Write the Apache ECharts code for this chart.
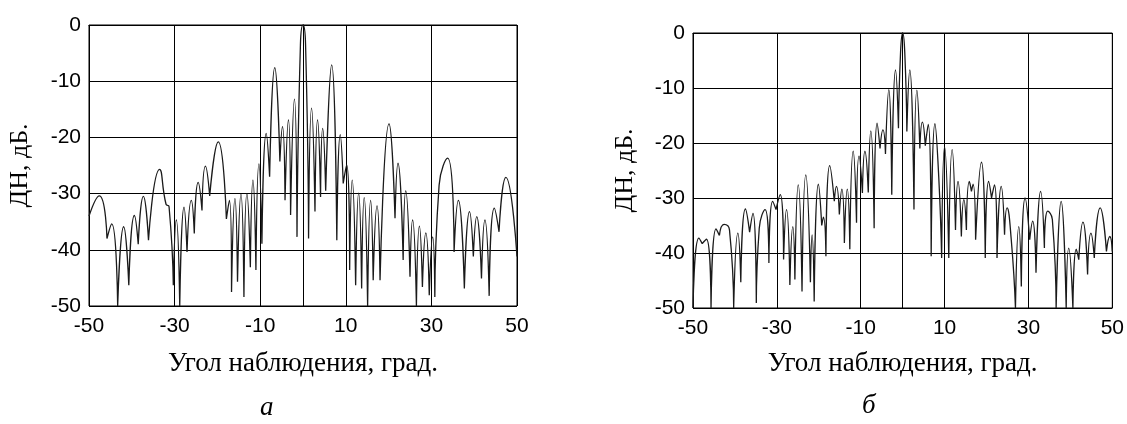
<!DOCTYPE html>
<html>
<head>
<meta charset="utf-8">
<script src="https://cdn.jsdelivr.net/npm/echarts@6/dist/echarts.min.js"></script>
<style>
  html, body { margin: 0; padding: 0; background: #fff; }
  #chart { width: 1127px; height: 424px; }
</style>
</head>
<body>
<div id="chart"></div>
<script>
// chart "а": lobe peaks and nulls (angle, dB)
var anglesA = [-50, -47.6, -45.8, -44.7, -43.3, -41.9, -40.7, -39.4, -38.5, -37.3, -36.1, -33.5, -32.0, -31.3,
  -30.3, -29.6, -28.8, -27.8, -27.1, -26.1, -25.4, -24.5, -23.6, -22.8, -21.8, -19.8, -17.9, -17.2, -16.7,
  -15.9, -15.3, -14.5, -13.8, -13.1, -12.3, -11.7, -11.0, -10.3, -9.6, -8.6, -7.8, -6.6, -5.4, -4.8, -4.2,
  -3.4, -2.9, -2.0, -1.4, -0.6, 0, 0.6, 1.3, 2.0, 2.8, 3.4, 4.1, 4.6, 5.3, 6.7, 7.9, 8.7, 9.4, 10.2, 10.9,
  11.5, 12.3, 13.0, 13.7, 14.3, 15.1, 15.8, 16.4, 17.3, 18.0, 20.1, 21.5, 22.2, 23.4, 24.0, 25.0, 25.6, 26.5,
  27.2, 27.9, 28.7, 29.5, 30.3, 30.8, 31.8, 33.8, 35.3, 36.3, 37.7, 38.9, 39.8, 40.6, 41.7, 42.5, 43.5, 44.7,
  45.8, 47.4, 50];
var levelsA = [-34.0, -30.4, -38.0, -35.4, -50, -35.9, -46.3, -33.9, -39.0, -30.5, -38.3, -25.7, -31.9, -32.3,
  -46.3, -34.7, -50, -32.4, -40.4, -31.2, -37.1, -28.0, -33.0, -25.1, -30.4, -20.8, -34.5, -31.2, -47.5,
  -30.9, -45.7, -30.1, -48.4, -30.0, -43.1, -27.6, -43.6, -24.7, -38.9, -19.3, -27.0, -7.6, -24.3, -18.1, -31.2,
  -16.9, -33.8, -13.2, -37.7, -3.5, 0, -3.5, -38.0, -14.8, -33.2, -16.9, -30.6, -18.4, -29.5, -7.1, -38.3, -19.5, -28.2, -24.9, -43.6,
  -27.6, -46.3, -29.9, -46.9, -30.7, -50, -31.2, -45.4, -32.2, -45.4, -17.6, -34.4, -24.6, -41.8, -29.5, -44.8, -34.7, -50,
  -35.8, -46.6, -37.0, -48.1, -37.7, -48.4, -28.5, -23.7, -40.4, -31.2, -46.9, -33.2, -41.2, -34.1, -45.1, -34.7, -48.2, -32.6,
  -36.8, -27.1, -41.2];

// chart "б"
var anglesB = [-50, -48.6, -47.8, -46.8, -45.7, -44.5, -43.7, -42.6, -41.3, -40.3, -39.3, -38.6, -37.5, -36.5,
  -35.7, -34.9, -34.2, -32.8, -31.9, -31.0, -30.2, -29.2, -28.4, -27.7, -26.9, -26.2, -25.7, -24.9, -24.0,
  -23.1, -22.0, -21.6, -21.1, -20.1, -19.3, -18.9, -18.3, -17.4, -16.3, -15.8, -15.1, -14.5, -13.9, -13.2,
  -12.6, -11.8, -11.0, -10.4, -9.6, -9.0, -8.2, -7.6, -6.8, -6.1, -5.4, -4.7, -4.1, -3.3, -2.6, -1.7, -1.0,
  -0.5, 0, 0.5, 1.0, 1.7, 2.7, 3.4, 4.1, 4.7, 5.4, 6.1, 6.8, 7.7, 8.6, 9.3, 10.0, 11.0, 11.8, 12.6, 13.2, 14.0,
  14.6, 15.2, 15.9, 16.4, 16.8, 17.4, 18.8, 19.7, 20.5, 21.2, 21.9, 22.5, 23.5, 24.3, 24.9, 25.9, 26.9, 27.7,
  28.3, 29.2, 30.3, 31.0, 31.8, 32.9, 33.8, 34.6, 35.7, 36.6, 37.8, 39.0, 39.6, 40.6, 41.4, 42.0, 43.0, 44.1,
  44.9, 45.7, 47.1, 48.6, 49.4, 50];
var levelsB = [-50, -37.3, -38.3, -37.5, -50, -35.6, -36.8, -34.8, -35.8, -50, -36.4, -45.3, -32.0, -36.2,
  -32.8, -49.1, -35.5, -32.1, -41.8, -30.6, -32.1, -29.4, -41.2, -32.1, -45.8, -35.2, -44.8, -27.6, -47.0,
  -25.8, -45.3, -36.7, -48.8, -27.5, -35.0, -33.5, -40.6, -24.1, -30.6, -27.9, -33.0, -28.4, -38.2, -28.4,
  -39.3, -21.5, -34.5, -22.4, -29.1, -21.5, -29.0, -17.8, -35.5, -16.4, -21.0, -17.6, -22.0, -10.3, -29.4, -6.7, -17.3,
  -3.5, 0, -3.5, -17.9, -6.7, -32.1, -10.4, -21.0, -16.2, -20.5, -16.6, -40.6, -16.5, -26.1, -40.9, -20.7, -40.9, -21.2, -35.8, -27.0, -37.0,
  -30.3, -35.8, -27.0, -28.8, -27.5, -37.6, -23.5, -40.9, -27.0, -30.0, -27.6, -40.9, -27.9, -36.7, -31.8, -37.6, -50, -35.2,
  -46.1, -30.0, -37.6, -34.2, -43.6, -28.8, -39.1, -32.4, -33.9, -50, -30.6, -50, -39.1, -50, -39.3, -41.2, -34.4, -43.9,
  -36.4, -40.9, -31.8, -39.7, -37.0, -39.7];

// each lobe is its own smooth piece: the line breaks at every null so nulls stay sharp
function lobeData(xs, ys) {
    var out = [];
    for (var i = 0; i < xs.length; i++) {
        out.push([xs[i], ys[i]]);
        if (i > 0 && i < xs.length - 1 && ys[i] < ys[i - 1] && ys[i] < ys[i + 1]) {
            out.push([xs[i], '-']);
            out.push([xs[i], ys[i]]);
        }
    }
    return out;
}

var tickFont = { fontFamily: 'Liberation Sans', fontSize: 21, color: '#000' };
var nameFont = { fontFamily: 'Liberation Serif', fontSize: 26, color: '#000' };
var black = { lineStyle: { color: '#000', width: 1 } };

function xAxis(idx, gap) {
    return {
        type: 'value', gridIndex: idx, min: -50, max: 50, interval: 20,
        name: 'Угол наблюдения, град.', nameLocation: 'middle', nameGap: gap,
        nameTextStyle: Object.assign({}, nameFont, { fontSize: 27 }),
        axisLine: black, axisTick: { show: true, length: 5, lineStyle: { color: '#000' } },
        axisLabel: Object.assign({ margin: 10 }, tickFont),
        splitLine: { show: true, lineStyle: { color: '#000', width: 1 } }
    };
}
function yAxis(idx, gap) {
    return {
        type: 'value', gridIndex: idx, min: -50, max: 0, interval: 10,
        name: 'ДН, дБ.', nameLocation: 'middle', nameGap: gap, nameRotate: 90, nameTextStyle: nameFont,
        axisLine: black, axisTick: { show: true, length: 5, lineStyle: { color: '#000' } },
        axisLabel: Object.assign({ margin: 8 }, tickFont),
        splitLine: { show: true, lineStyle: { color: '#000', width: 1 } }
    };
}
function lobes(idx, data) {
    return {
        type: 'line', xAxisIndex: idx, yAxisIndex: idx, data: data, symbol: 'none',
        smooth: 0.55, connectNulls: false, clip: true, lineStyle: { color: '#1a1a1a', width: 1.3 }
    };
}

var chart = echarts.init(document.getElementById('chart'));
chart.setOption({
    animation: false,
    grid: [
        { left: 89, top: 25, width: 428, height: 281, show: true, borderColor: '#000', borderWidth: 1 },
        { left: 693, top: 33, width: 421, height: 275, show: true, borderColor: '#000', borderWidth: 1 }
    ],
    xAxis: [xAxis(0, 44), xAxis(1, 42)],
    yAxis: [yAxis(0, 56), yAxis(1, 55)],
    series: [lobes(0, lobeData(anglesA, levelsA)), lobes(1, lobeData(anglesB, levelsB))],
    graphic: [
        { type: 'text', left: 260, top: 394, style: { text: 'а', font: 'italic 27px "Liberation Serif"', fill: '#000' } },
        { type: 'text', left: 862, top: 392, style: { text: 'б', font: 'italic 27px "Liberation Serif"', fill: '#000' } }
    ]
});
</script>
</body>
</html>
